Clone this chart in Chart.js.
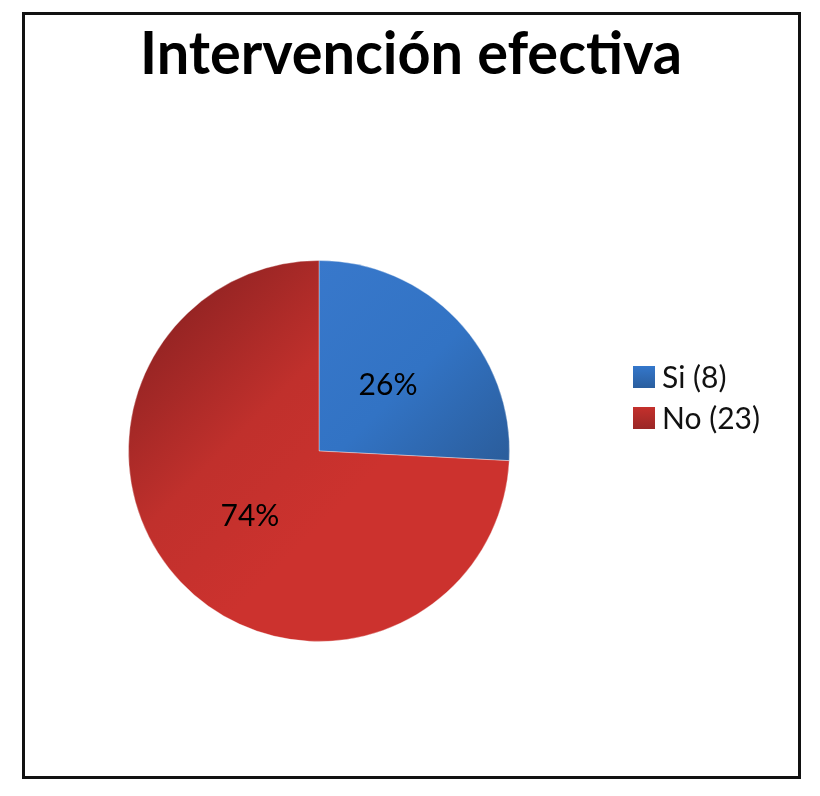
<!DOCTYPE html>
<html>
<head>
<meta charset="utf-8">
<script src="https://cdn.jsdelivr.net/npm/chart.js@4.4.1/dist/chart.umd.min.js"></script>
<style>
  html, body { margin: 0; padding: 0; background: #ffffff; }
  #wrap { position: absolute; left: 0; top: 0; width: 820px; height: 796px; }
</style>
</head>
<body>
<div id="wrap"><canvas id="c" width="820" height="796"></canvas></div>
<script>
const titleText = 'Intervención efectiva';
const categories = ['Si', 'No'];
const counts = [8, 23];
const legendLabels = ['Si (8)', 'No (23)'];

const total = counts.reduce((a, b) => a + b, 0);

function sliceColor(ctx) {
  const chart = ctx.chart;
  const area = chart.chartArea;
  const i = ctx.dataIndex;
  if (!area) return i === 0 ? '#3374C6' : '#C8302C';
  const c = chart.ctx;
  const cx = (area.left + area.right) / 2;
  const cy = (area.top + area.bottom) / 2;
  const r = Math.min(area.width, area.height) / 2;
  if (i === 0) {
    const g = c.createLinearGradient(cx, cy - r, cx + r, cy);
    g.addColorStop(0, '#3878CB');
    g.addColorStop(0.55, '#3273C4');
    g.addColorStop(1, '#2B5E9D');
    return g;
  }
  const g = c.createLinearGradient(cx - r * 0.8, cy - r * 0.8, cx + r * 0.2, cy + r * 0.2);
  g.addColorStop(0, '#8E2222');
  g.addColorStop(0.55, '#C0302C');
  g.addColorStop(1, '#CC322E');
  return g;
}

const frame = {
  id: 'frame',
  beforeDraw(chart) {
    const c = chart.ctx;
    c.save();
    c.fillStyle = '#ffffff';
    c.fillRect(0, 0, chart.width, chart.height);
    c.strokeStyle = '#111111';
    c.lineWidth = 3;
    c.strokeRect(23.5, 13.5, 776, 764);
    c.restore();
  }
};

const titleDraw = {
  id: 'titleDraw',
  afterDraw(chart) {
    const c = chart.ctx;
    c.save();
    c.font = 'bold 60px Lato, "Open Sans", sans-serif';
    c.fillStyle = '#000000';
    c.textAlign = 'center';
    c.textBaseline = 'alphabetic';
    c.fillText(titleText, 411, 74, 542);
    c.restore();
  }
};

const sliceLabels = {
  id: 'sliceLabels',
  afterDatasetsDraw(chart) {
    const c = chart.ctx;
    const meta = chart.getDatasetMeta(0);
    const vals = chart.data.datasets[0].data;
    c.save();
    c.font = '30px Lato, "Open Sans", sans-serif';
    c.fillStyle = '#000000';
    c.textAlign = 'center';
    c.textBaseline = 'middle';
    meta.data.forEach((arc, i) => {
      const p = arc.getCenterPoint();
      c.fillText(Math.round(vals[i] / total * 100) + '%', p.x, p.y);
    });
    c.restore();
  }
};

const sideLegend = {
  id: 'sideLegend',
  afterDraw(chart) {
    const c = chart.ctx;
    const x0 = 633, y0 = 366, box = 22, gap = 41;
    const boxColors = [['#3477CB', '#2A5E9E'], ['#C4302C', '#9A2726']];
    c.save();
    c.font = '30px Lato, "Open Sans", sans-serif';
    c.textBaseline = 'middle';
    c.textAlign = 'left';
    legendLabels.forEach((lab, i) => {
      const y = y0 + i * gap;
      const g = c.createLinearGradient(x0, y, x0, y + box);
      g.addColorStop(0, boxColors[i][0]);
      g.addColorStop(1, boxColors[i][1]);
      c.fillStyle = g;
      c.fillRect(x0, y, box, box);
      c.fillStyle = '#111111';
      c.fillText(lab, x0 + box + 7, y + box / 2 + 1);
    });
    c.restore();
  }
};

new Chart(document.getElementById('c'), {
  type: 'pie',
  data: {
    labels: categories,
    datasets: [{
      data: counts,
      backgroundColor: sliceColor,
      borderColor: 'rgba(255,255,255,0.35)',
      borderWidth: 1
    }]
  },
  options: {
    responsive: false,
    animation: false,
    events: [],
    layout: { padding: { left: 128, right: 310, top: 260, bottom: 154 } },
    plugins: {
      legend: { display: false },
      tooltip: { enabled: false },
      title: { display: false }
    }
  },
  plugins: [frame, titleDraw, sliceLabels, sideLegend]
});
</script>
</body>
</html>
